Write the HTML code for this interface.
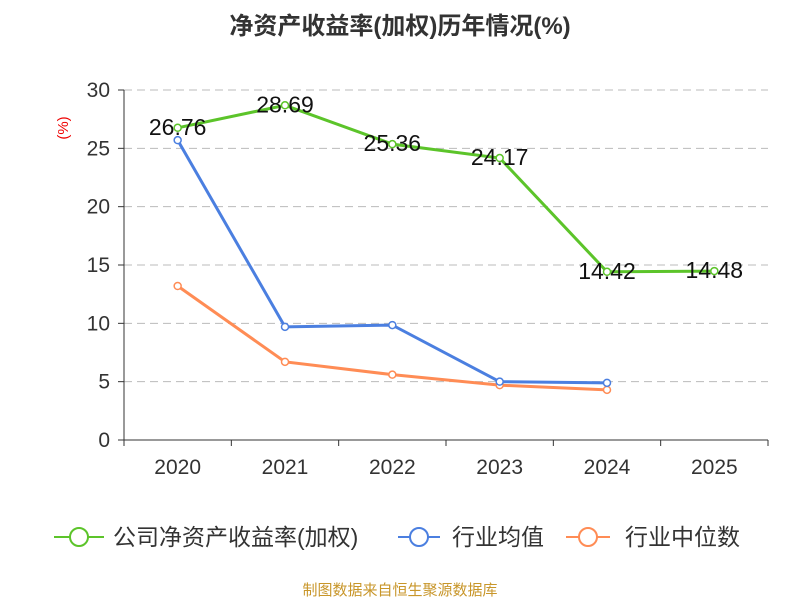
<!DOCTYPE html>
<html><head><meta charset="utf-8"><style>
body{margin:0;background:#fff;}
svg text{font-family:"Liberation Sans","Noto Sans CJK SC",sans-serif;}
</style></head><body>
<svg id="c" width="800" height="600" xmlns="http://www.w3.org/2000/svg">
<text x="400" y="34" text-anchor="middle" font-size="24" font-weight="bold" fill="#333">净资产收益率(加权)历年情况(%)</text>
<text x="68" y="128" font-size="15" fill="#e00" transform="rotate(-90 68 128)" text-anchor="middle">(%)</text>
<g id="grid"></g><g id="axes"></g><g id="series"></g>
<g>
<g><line x1="54" y1="537" x2="104" y2="537" stroke="#5cc42a" stroke-width="2"/><circle cx="79" cy="537" r="9" fill="#fff" stroke="#5cc42a" stroke-width="2"/><text x="113" y="545" font-size="23" fill="#333">公司净资产收益率(加权)</text></g>
<g><line x1="398" y1="537" x2="440" y2="537" stroke="#4b7fe0" stroke-width="2"/><circle cx="419" cy="537" r="9" fill="#fff" stroke="#4b7fe0" stroke-width="2"/><text x="452" y="545" font-size="23" fill="#333">行业均值</text></g>
<g><line x1="566" y1="537" x2="610" y2="537" stroke="#ff8c55" stroke-width="2"/><circle cx="588" cy="537" r="9" fill="#fff" stroke="#ff8c55" stroke-width="2"/><text x="625" y="545" font-size="23" fill="#333">行业中位数</text></g>
</g>
<text x="400" y="595" text-anchor="middle" font-size="15" fill="#c8962a">制图数据来自恒生聚源数据库</text>
</svg>
<script>
const categories=["2020","2021","2022","2023","2024","2025"];
const companyValues=[26.76,28.69,25.36,24.17,14.42,14.48];
const industryAvg=[25.7,9.7,9.85,5.0,4.9];
const industryMedian=[13.2,6.7,5.6,4.7,4.3];
const yTicks=[0,5,10,15,20,25,30];
const NS="http://www.w3.org/2000/svg";
const x0=124,x1=768,y0=440,y1=90,yMax=30;
const bw=(x1-x0)/categories.length;
const xs=i=>x0+bw*(i+0.5);
const ys=v=>y0-(v/yMax)*(y0-y1);
function mk(t,a,p){const e=document.createElementNS(NS,t);for(const k in a)e.setAttribute(k,a[k]);p.appendChild(e);return e;}
const grid=document.getElementById('grid'),axes=document.getElementById('axes'),ser=document.getElementById('series');
yTicks.forEach(v=>{
 if(v>0){const g=mk('line',{x1:x0,x2:x1,y1:ys(v),y2:ys(v),stroke:'#bbb','stroke-dasharray':'8,5'},grid);
 
 }
 const tk=mk('line',{x1:x0-6,x2:x0,y1:ys(v),y2:ys(v),stroke:'#333'},axes);
 
 
 const t=mk('text',{x:x0-14,y:ys(v)+7,'text-anchor':'end','font-size':21,fill:'#333'},axes);t.textContent=v;
 
 
});
const ya=mk('line',{x1:x0,x2:x0,y1:y1,y2:y0,stroke:'#333'},axes);


const xa=mk('line',{x1:x0,x2:x1,y1:y0,y2:y0,stroke:'#333'},axes);


for(let i=0;i<=categories.length;i++){const l=mk('line',{x1:x0+bw*i,x2:x0+bw*i,y1:y0,y2:y0+6,stroke:'#333'},axes);
 
 }
categories.forEach((c,i)=>{const t=mk('text',{x:xs(i),y:y0+34,'text-anchor':'middle','font-size':21,fill:'#333'},axes);t.textContent=c;
 
 });
function line(vals,color,name,labels){
 const g=mk('g',{},ser);
 
 
 const p=mk('polyline',{points:vals.map((v,i)=>xs(i)+','+ys(v)).join(' '),fill:'none',stroke:color,'stroke-width':3},g);
 
 
 vals.forEach((v,i)=>{const c=mk('circle',{cx:xs(i),cy:ys(v),r:3.5,fill:'#fff',stroke:color,'stroke-width':1.5},g);
  
  
  if(labels){const t=mk('text',{x:xs(i),y:ys(v)+7,'text-anchor':'middle','font-size':23,fill:'#111'},g);t.textContent=v.toFixed(2);
  
  }
 });
}
line(industryMedian,'#ff8c55','industry-median-series',false);
line(industryAvg,'#4b7fe0','industry-avg-series',false);
line(companyValues,'#5cc42a','company-roe-series',true);
</script>
</body></html>
